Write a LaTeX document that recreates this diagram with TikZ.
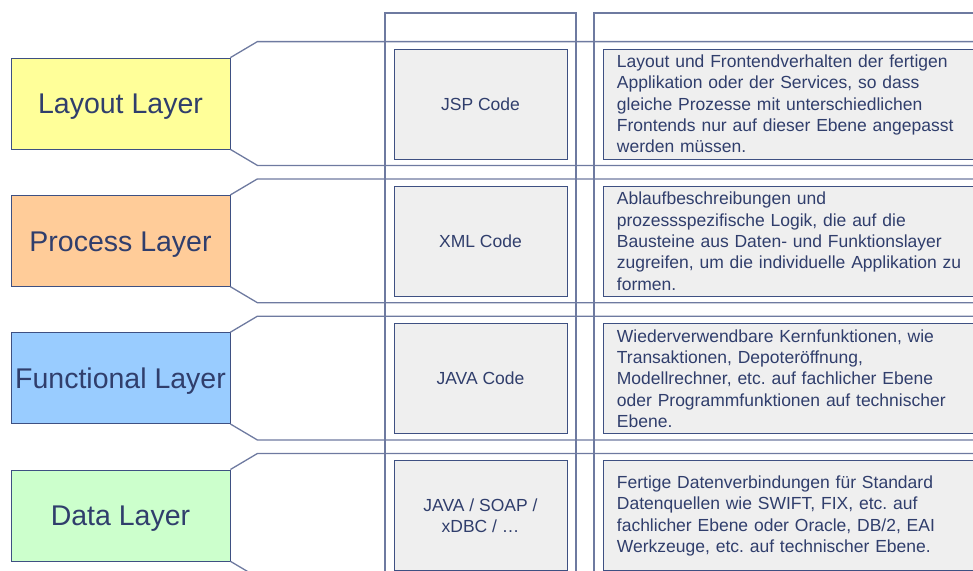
\documentclass[tikz,border=0pt]{standalone}
\usepackage{fontspec}
\setmainfont{Liberation Sans}
\usetikzlibrary{positioning}
\frenchspacing

\definecolor{frame}{RGB}{110,122,160}
\definecolor{ink}{RGB}{48,62,108}
\definecolor{boxline}{RGB}{62,80,130}
\definecolor{boxgrey}{RGB}{239,239,239}
\definecolor{layyellow}{RGB}{255,255,153}
\definecolor{layorange}{RGB}{255,204,153}
\definecolor{layblue}{RGB}{153,204,255}
\definecolor{laygreen}{RGB}{204,255,204}

\tikzset{
  band/.style={draw=frame, line width=1.3pt},
  layerbox/.style={draw=boxline, line width=0.8pt, minimum width=219pt, minimum height=91pt,
    inner sep=0pt, text height=20.4pt, text depth=0pt, text=ink,
    font=\fontsize{28.5}{34}\selectfont},
  codebox/.style={draw=boxline, fill=boxgrey, line width=0.9pt, minimum width=173pt,
    minimum height=110pt, text=ink, align=center, font=\fontsize{17.5}{21.3}\selectfont},
  descbox/.style={draw=boxline, fill=boxgrey, line width=0.9pt, minimum width=382pt,
    text width=356pt, inner xsep=13pt, minimum height=110pt, text=ink, align=left,
    font=\fontsize{17.5}{21.3}\selectfont}
}

\begin{document}
\begin{tikzpicture}[x=1pt,y=-1pt]
  \useasboundingbox (0,0) rectangle (973,570);
  \clip (0,0) rectangle (973,570);
  % columns
  \draw[band] (385,580) |- (576,13) -- (576,580);
  \draw[band] (594,580) |- (990,13);
  % one row per layer
  \foreach \i/\name/\col/\code/\desc in {
    0/{Layout Layer}/layyellow/{JSP Code}/{Layout und Frontendverhalten der fertigen\\Applikation oder der Services, so dass\\gleiche Prozesse mit unterschiedlichen\\Frontends nur auf dieser Ebene angepasst\\werden müssen.},
    1/{Process Layer}/layorange/{XML Code}/{Ablaufbeschreibungen und\\prozessspezifische Logik, die auf die\\Bausteine aus Daten- und Funktionslayer\\zugreifen, um die individuelle Applikation zu\\formen.},
    2/{Functional Layer}/layblue/{JAVA Code}/{Wiederverwendbare Kernfunktionen, wie\\Transaktionen, Depoteröffnung,\\Modellrechner, etc. auf fachlicher Ebene\\oder Programmfunktionen auf technischer\\Ebene.},
    3/{Data Layer}/laygreen/{JAVA / SOAP /\\xDBC / …}/{Fertige Datenverbindungen für Standard\\Datenquellen wie SWIFT, FIX, etc. auf\\fachlicher Ebene oder Oracle, DB/2, EAI\\Werkzeuge, etc. auf technischer Ebene.}}{
    \node[layerbox, fill=\col] (lay\i) at (120.5,103.5+137.3*\i) {\name};
    \draw[band] (lay\i.north east) -- ++(27,-16) -- ++(740,0);
    \draw[band] (lay\i.south east) -- ++(27,16) -- ++(740,0);
    \node[codebox] (code\i) at (480.5,104+137.3*\i) {\code};
    \node[descbox, right=36pt of code\i] (desc\i) {\desc};
  }
\end{tikzpicture}
\end{document}
